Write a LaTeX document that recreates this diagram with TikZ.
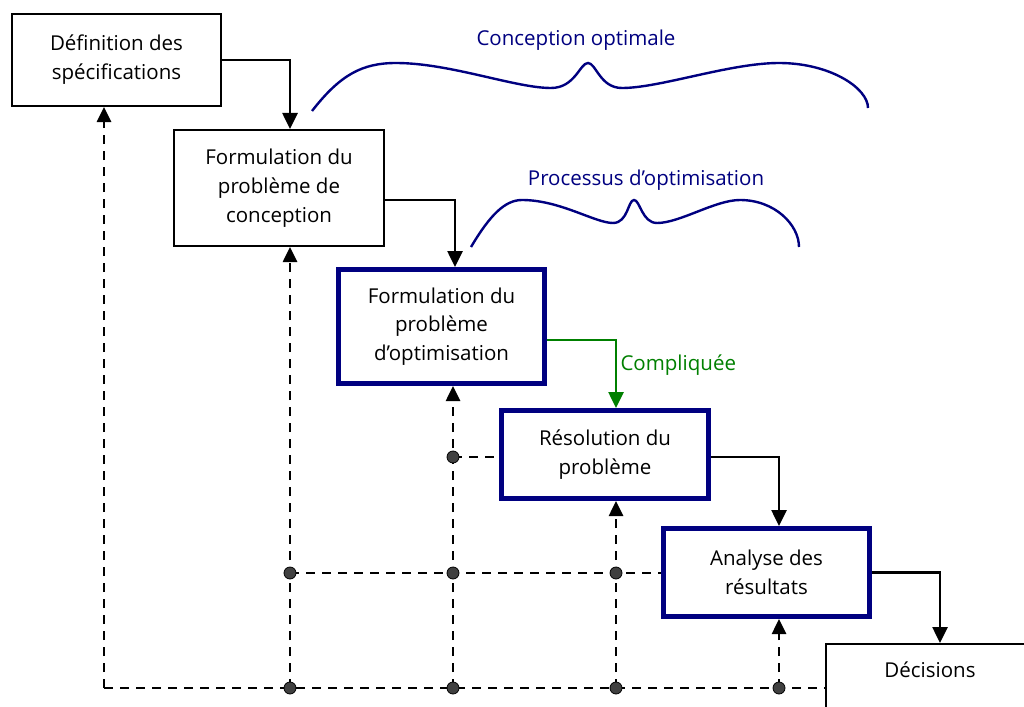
\documentclass[tikz,border=0pt]{standalone}
\usepackage{fontspec}
\setmainfont{Open Sans}
\usetikzlibrary{arrows.meta,calc}
\definecolor{navyb}{RGB}{0,0,128}
\definecolor{greenc}{RGB}{0,128,0}
\definecolor{dotgray}{RGB}{64,64,64}
\tikzset{
  plainbox/.style={draw=black,line width=2pt,fill=white,align=center,inner sep=0pt,font=\fontsize{20.5}{28.8}\selectfont},
  bluebox/.style={draw=navyb,line width=5pt,fill=white,align=center,inner sep=0pt,font=\fontsize{20.5}{28.8}\selectfont},
  flow/.style={draw=black,line width=2.6pt,-{Triangle[width=15pt,length=16pt]}},
  gflow/.style={draw=greenc,line width=2.6pt,-{Triangle[width=15pt,length=16pt]}},
  dline/.style={draw=black,line width=2.6pt,dash pattern=on 9pt off 7pt},
  darrow/.style={dline,-{Triangle[width=14pt,length=15pt]}},
  jdot/.style={circle,fill=dotgray,draw=black,line width=0.8pt,inner sep=0pt,minimum size=12pt},
  bracepath/.style={draw=navyb,line width=2.4pt},
  bracelabel/.style={text=navyb,font=\fontsize{20.5}{24}\selectfont},
}
\begin{document}
\begin{tikzpicture}[x=1pt,y=-1pt]
\useasboundingbox (0,0) rectangle (1024,706);
\clip (0,0) rectangle (1024,706);
\fill[white] (0,0) rectangle (1024,706);

% braces
\draw[bracepath] (312,111) .. controls (340,75) and (362,63) .. (396,63)
  .. controls (450,63) and (515,88) .. (551,88)
  .. controls (575,88) and (580,63) .. (588,63)
  .. controls (596,63) and (600,88) .. (622,88)
  .. controls (660,88) and (730,63) .. (779,63)
  .. controls (830,63) and (868,88) .. (868,108);
\node[bracelabel] (lbl1) at (576,40) {Conception optimale};

\draw[bracepath] (471,247) .. controls (490,215) and (505,200) .. (522,200)
  .. controls (560,200) and (595,223) .. (613,223)
  .. controls (628,223) and (628,200) .. (634,200)
  .. controls (640,200) and (642,223) .. (657,223)
  .. controls (680,223) and (715,200) .. (740,200)
  .. controls (775,200) and (799,225) .. (799,247);
\node[bracelabel] (lbl2) at (646,180) {Processus d’optimisation};

% coordinates of the dashed network
\coordinate (b0) at (104,688);
\coordinate (b1) at (290,688);
\coordinate (b2) at (453,688);
\coordinate (b3) at (616,688);
\coordinate (b4) at (779,688);
\coordinate (m1) at (290,573);
\coordinate (m2) at (453,573);
\coordinate (m3) at (616,573);
\coordinate (u2) at (453,457);

% decisions box (partly outside the picture)
\node[plainbox,minimum width=260pt,minimum height=120pt,anchor=north west] (dec) at (825,643) {};
\draw[dline] (b0) -- (dec.west |- b0);

% boxes
\node[plainbox,minimum width=209pt,minimum height=92pt] (def) at (116.5,60) {Définition des\\spécifications};
\node[plainbox,minimum width=210pt,minimum height=116pt] (conc) at (279,188) {Formulation du\\problème de\\conception};
\node[bluebox,minimum width=206pt,minimum height=114pt] (opt) at (441.5,326.5) {Formulation du\\problème\\d’optimisation};
\node[bluebox,minimum width=207pt,minimum height=88pt] (res) at (605,454.5) {Résolution du\\problème};
\node[bluebox,minimum width=206pt,minimum height=88pt] (ana) at (766.5,572.5) {Analyse des\\résultats};
\node[font=\fontsize{20.5}{24}\selectfont] (dect) at (930,670) {Décisions};

% horizontal dashed segments ending at box edges
\draw[dline] (m1) -- (ana.west |- m1);
\draw[dline] (u2) -- (res.west |- u2);

% dashed upward arrows
\draw[darrow] (b0) -- (b0 |- def.south);
\draw[darrow] (b1) -- (b1 |- conc.south);
\draw[darrow] (b2) -- (b2 |- opt.south);
\draw[darrow] (b3) -- (b3 |- res.south);
\draw[darrow] (b4) -- (b4 |- ana.south);

% flow arrows
\draw[flow] (def.east) -| ([xshift=11pt]conc.north);
\draw[flow] ([yshift=-12pt]conc.east) -| ([xshift=13.5pt]opt.north);
\draw[gflow] ([yshift=-13.5pt]opt.east) -| ([xshift=11pt]res.north);
\node[text=greenc,font=\fontsize{20.5}{24}\selectfont,anchor=west] (comp) at (617,365) {Compliquée};
\draw[flow] ([yshift=-2.5pt]res.east) -| ([xshift=12.5pt]ana.north);
\draw[flow] (ana.east) -| ([xshift=115pt]dec.north west);

% junction dots
\foreach \p in {b1,b2,b3,b4,m1,m2,m3,u2} \node[jdot] at (\p) {};
\end{tikzpicture}
\end{document}
